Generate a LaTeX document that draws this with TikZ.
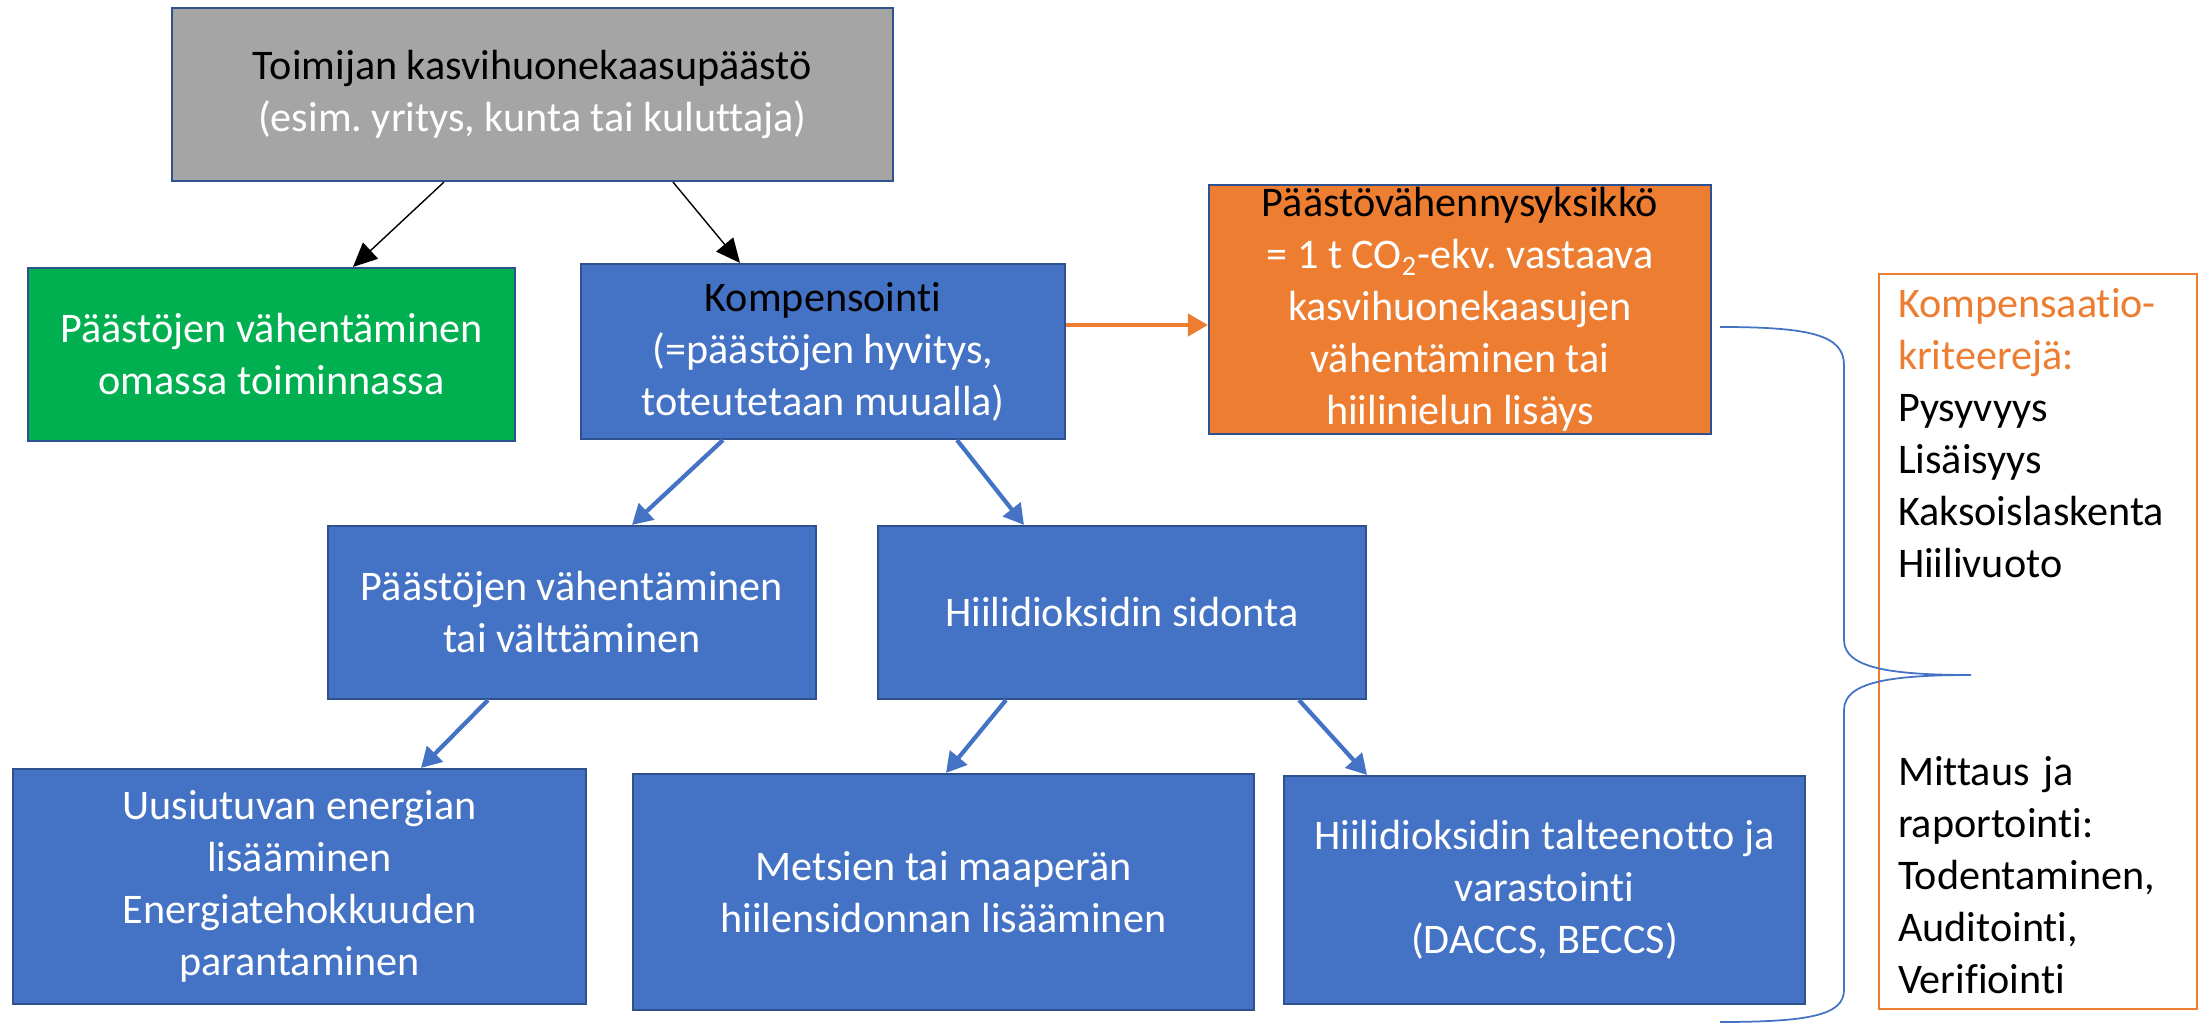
\documentclass[tikz,border=0pt]{standalone}
\usepackage{fontspec}
\setmainfont{Carlito}[Ligatures=NoCommon]
\frenchspacing
\usetikzlibrary{arrows.meta}
\definecolor{boxblue}{HTML}{4472C4}
\definecolor{boxgreen}{HTML}{00B050}
\definecolor{boxorange}{HTML}{ED7D31}
\definecolor{boxgray}{HTML}{A5A5A5}
\definecolor{boxedge}{HTML}{2F528F}
\begin{document}
\begin{tikzpicture}[x=0.1mm,y=-0.1mm,
    box/.style={draw=boxedge,line width=0.6pt,fill=boxblue,text=white,align=center,
        inner sep=0pt,font=\fontsize{12}{14.8}\selectfont},
    critbox/.style={draw=boxorange,line width=0.8pt,fill=white,align=left,inner xsep=1.9mm,
        text width=28mm,minimum height=73.5mm,font=\fontsize{12}{14.8}\selectfont},
    thinarrow/.style={-{Triangle[length=2.4mm,width=2.2mm]},black,line width=0.4pt},
    bluearrow/.style={-{Triangle[length=2mm,width=2.2mm]},boxblue,line width=1.2pt},
    orangearrow/.style={-{Triangle[length=2mm,width=2.2mm]},boxorange,line width=1.2pt}]
  \useasboundingbox (0,0) rectangle (2202,1024);

  % boxes
  \node[box,fill=boxgray,minimum width=72.1mm,minimum height=17.3mm] (emission) at (532.5,94.5)
    {\textcolor{black}{Toimijan kasvihuonekaasupäästö}\\(esim. yritys, kunta tai kuluttaja)};
  \node[box,fill=boxgreen,minimum width=48.7mm,minimum height=17.3mm] (own) at (271.5,354.5)
    {Päästöjen vähentäminen\\omassa toiminnassa};
  \node[box,minimum width=48.4mm,minimum height=17.5mm] (komp) at (823,351.5)
    {\textcolor{black}{Kompensointi}\\(=päästöjen hyvitys,\\toteutetaan muualla)};
  \node[box,fill=boxorange,minimum width=50.2mm,minimum height=24.9mm] (unit) at (1460,309.5)
    {\textcolor{black}{Päästövähennysyksikkö}\\= 1 t CO\textsubscript{2}-ekv. vastaava\\kasvihuonekaasujen\\vähentäminen tai\\hiilinielun lisäys};
  \node[box,minimum width=48.8mm,minimum height=17.3mm] (avoid) at (572,612.5)
    {Päästöjen vähentäminen\\tai välttäminen};
  \node[box,minimum width=48.8mm,minimum height=17.3mm] (sink) at (1122,612.5)
    {Hiilidioksidin sidonta};
  \node[box,minimum width=57.3mm,minimum height=23.5mm] (energy) at (299.5,886.5)
    {Uusiutuvan energian\\lisääminen\\Energiatehokkuuden\\parantaminen};
  \node[box,minimum width=62.1mm,minimum height=23.6mm] (forest) at (943.5,892)
    {Metsien tai maaperän\\hiilensidonnan lisääminen};
  \node[box,minimum width=52.1mm,minimum height=22.8mm] (ccs) at (1544.5,890)
    {Hiilidioksidin talteenotto ja\\varastointi\\(DACCS, BECCS)};
  \node[critbox] (criteria) at (2038,641.5)
    {\textcolor{boxorange}{Kompensaatio-}\\\textcolor{boxorange}{kriteerejä:}\\Pysyvyys\\Lisäisyys\\Kaksoislaskenta\\Hiilivuoto\\[44.4pt]
     Mittaus ja\\raportointi:\\Todentaminen,\\Auditointi,\\Verifiointi};

  % arrows
  \draw[thinarrow] ([xshift=-8.85mm]emission.south) -- ([xshift=8.15mm]own.north);
  \draw[thinarrow] ([xshift=14.05mm]emission.south) -- ([xshift=-8.3mm]komp.north);
  \draw[orangearrow] ([yshift=2.65mm]komp.east) -- ([yshift=2.65mm]komp.east -| unit.west);
  \draw[bluearrow] ([xshift=-10mm]komp.south) -- ([xshift=6mm]avoid.north);
  \draw[bluearrow] ([xshift=13.4mm]komp.south) -- ([xshift=-9.8mm]sink.north);
  \draw[bluearrow] ([xshift=-8.4mm]avoid.south) -- ([xshift=12.15mm]energy.north);
  \draw[bluearrow] ([xshift=-11.6mm]sink.south) -- ([xshift=0.25mm]forest.north);
  \draw[bluearrow] ([xshift=17.7mm]sink.south) -- ([xshift=-17.75mm]ccs.north);

  % brace
  \draw[boxblue,line width=0.5pt] (1720,327) .. controls (1810,327) and (1844,335) .. (1844,365)
    -- (1844,640) .. controls (1844,668) and (1890,675) .. (1971,675)
    .. controls (1890,675) and (1844,682) .. (1844,710)
    -- (1844,990) .. controls (1844,1015) and (1810,1022) .. (1720,1022);
\end{tikzpicture}
\end{document}
